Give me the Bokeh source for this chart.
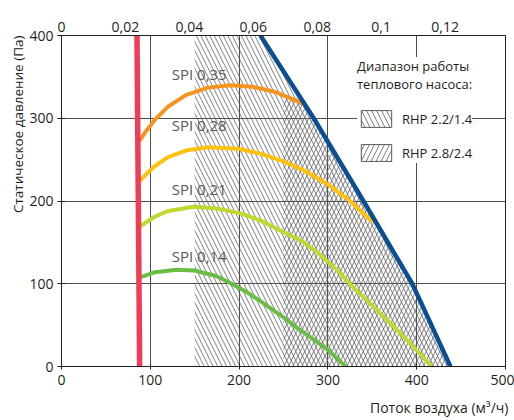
from bokeh.plotting import figure
from bokeh.models import (Range1d, LinearAxis, FixedTicker, Title, Legend,
                          LegendItem)
from bokeh.core.properties import value
from bokeh.embed import file_html
from bokeh.resources import INLINE

# ---------------- data ----------------
x_ticks = [0, 100, 200, 300, 400, 500]
y_ticks = [0, 100, 200, 300, 400]
top_ticks = [0, 0.02, 0.04, 0.06, 0.08, 0.1, 0.12]
top_labels = ["0", "0,02", "0,04", "0,06", "0,08", "0,1", "0,12"]

# minimum-flow limit (red) and maximum (blue)
red_x = [85, 88]
red_p = [400, 0]
blue_x = [224, 284, 340, 395, 438]
blue_p = [400, 300, 200, 100, 0]

# SPI curves
spi35_x = [88, 95, 105, 120, 140, 165, 190, 215, 240, 265, 272]
spi35_p = [273, 284, 298, 314, 328, 337, 340, 338, 332, 321, 317]
spi28_x = [88, 95, 105, 120, 140, 165, 200, 225, 250, 275, 300, 325, 350]
spi28_p = [224, 232, 242, 253, 261, 265, 263, 257, 248, 236, 220, 200, 175]
spi21_x = [88, 95, 105, 120, 149, 175, 202, 225, 247, 270, 288, 310, 329,
           345, 359, 380, 397, 417]
spi21_p = [169, 174, 181, 188, 193, 191, 185, 176, 164, 152, 138, 117, 95,
           79, 64, 42, 23, 0]
spi14_x = [88, 95, 105, 130, 150, 175, 190, 210, 228, 248, 265, 285, 299, 320]
spi14_p = [108, 110, 114, 117, 116, 109, 101, 89, 76, 61, 47, 32, 21, 0]

spi_labels = ["SPI 0,35", "SPI 0,28", "SPI 0,21", "SPI 0,14"]
spi_label_x = [186, 186, 186, 186]
spi_label_p = [353, 292, 215, 134]

# heat pump operating ranges
rhp22_x = [150, 150] + blue_x
rhp22_p = [0, 400] + blue_p
rhp28_x = [250, 250, 270, 284, 340, 395, 438]
rhp28_p = [0, 325, 325, 300, 200, 100, 0]

x_title = "Поток воздуха (м³/ч)"
y_title = "Статическое давление (Па)"
legend_title = "Диапазон работы\nтеплового насоса:"
legend_labels = ["RHP 2.2/1.4", "RHP 2.8/2.4"]
nan = float("nan")

FONT = "Open Sans"
TXT = "#231f20"
GRID = "#4d4d4d"
HATCH = "#5f6062"

p = figure(frame_width=444, frame_height=331,
           x_range=Range1d(0, 500), y_range=Range1d(0, 400),
           output_backend="svg", toolbar_location=None,
           min_border_left=61, min_border_right=9,
           min_border_top=35, min_border_bottom=54)
p.background_fill_color = "white"
p.border_fill_color = "white"
p.outline_line_color = TXT
p.outline_line_width = 1

# grid
p.xgrid.ticker = FixedTicker(ticks=x_ticks)
p.ygrid.ticker = FixedTicker(ticks=y_ticks)
for g in (p.xgrid, p.ygrid):
    g.grid_line_color = GRID
    g.grid_line_width = 1

# axes
for ax in (p.xaxis, p.yaxis):
    ax.axis_line_color = TXT
    ax.major_tick_line_color = TXT
    ax.minor_tick_line_color = None
    ax.major_label_text_font = FONT
    ax.major_label_text_font_size = "14px"
    ax.major_label_text_color = TXT
p.xaxis.ticker = FixedTicker(ticks=x_ticks)
p.yaxis.ticker = FixedTicker(ticks=y_ticks)
p.xaxis.major_tick_out = 3
p.xaxis.major_tick_in = 3
p.xaxis.major_label_standoff = 5
p.yaxis.major_tick_out = 4
p.yaxis.major_tick_in = 4
p.yaxis.major_label_standoff = 4

p.extra_x_ranges = {"m3s": Range1d(0, 500 / 3600)}
top = LinearAxis(x_range_name="m3s", ticker=FixedTicker(ticks=top_ticks),
                 major_label_overrides=dict(zip(top_ticks, top_labels)))
top.axis_line_color = TXT
top.major_tick_out = 0
top.major_tick_in = 0
top.minor_tick_line_color = None
top.major_label_standoff = 4
top.major_label_text_font = FONT
top.major_label_text_font_size = "14px"
top.major_label_text_color = TXT
p.add_layout(top, "above")

# axis titles
yt = Title(text=y_title, align="right",
           text_font=FONT, text_font_size="13.5px", text_font_style="normal",
           text_color=TXT, standoff=0, offset=0)
p.add_layout(yt, "left")
xt = Title(text=x_title, align="right",
           text_font=FONT, text_font_size="14px", text_font_style="normal",
           text_color=TXT, standoff=16, offset=-3)
p.add_layout(xt, "below")

# hatched ranges
p.patch(rhp22_x, rhp22_p, fill_color=None, line_color=None,
        hatch_pattern="left_diagonal_line", hatch_color=HATCH,
        hatch_weight=0.8, hatch_scale=9)
p.patch(rhp28_x, rhp28_p, fill_color=None, line_color=None,
        hatch_pattern="right_diagonal_line", hatch_color=HATCH,
        hatch_weight=0.8, hatch_scale=9)

# curves
p.line(spi14_x, spi14_p, line_color="#6abd45", line_width=4)
p.line(spi21_x, spi21_p, line_color="#c2d730", line_width=4)
p.line(spi28_x, spi28_p, line_color="#ffc20e", line_width=4)
p.line(spi35_x, spi35_p, line_color="#f7941d", line_width=4)
p.line(red_x, red_p, line_color="#ee3d56", line_width=5.5)
p.line(blue_x, blue_p, line_color="#0b4f93", line_width=4.5)

p.text(x=spi_label_x, y=spi_label_p, text=spi_labels,
       text_align="right", text_baseline="middle",
       text_font=value(FONT), text_font_size="15px", text_color="#58595b")

# legend swatches (not drawn in the plot area: NaN coordinates)
l1 = p.quad(left=[nan], right=[nan], top=[nan], bottom=[nan], fill_color=None,
            line_color="#58595b", line_width=1,
            hatch_pattern="left_diagonal_line", hatch_color=HATCH,
            hatch_weight=0.8, hatch_scale=10)
l2 = p.quad(left=[nan], right=[nan], top=[nan], bottom=[nan], fill_color=None,
            line_color="#58595b", line_width=1,
            hatch_pattern="right_diagonal_line", hatch_color=HATCH,
            hatch_weight=0.8, hatch_scale=10)
legend = Legend(items=[LegendItem(label=legend_labels[0], renderers=[l1]),
                       LegendItem(label=legend_labels[1], renderers=[l2])],
                location=(296, 203), title=legend_title)
legend.title_text_font = FONT
legend.title_text_font_size = "13px"
legend.title_text_font_style = "normal"
legend.title_text_color = TXT
legend.title_text_line_height = 1.3
legend.title_standoff = 15
legend.label_text_font = FONT
legend.label_text_font_size = "13px"
legend.label_text_color = TXT
legend.glyph_width = 38
legend.glyph_height = 21
legend.label_height = 21
legend.label_standoff = 7
legend.spacing = 13
legend.padding = 5
legend.margin = 0
legend.border_line_color = None
legend.background_fill_color = "white"
legend.background_fill_alpha = 1
p.add_layout(legend)

open("out.html", "w").write(file_html(p, INLINE))
